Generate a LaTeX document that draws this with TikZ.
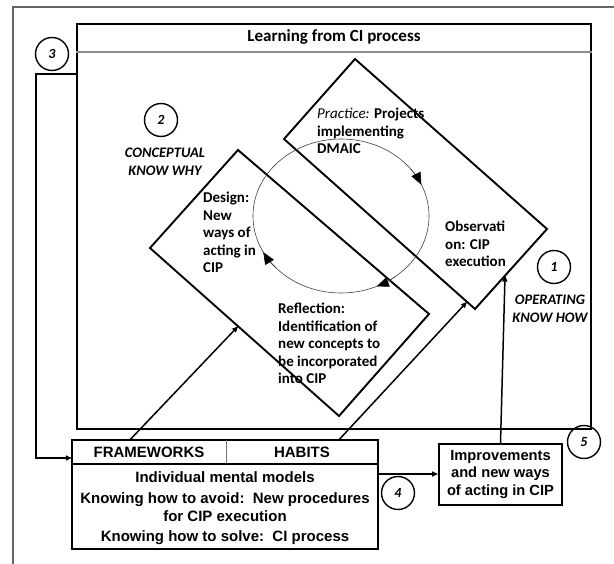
\documentclass[tikz,border=0pt]{standalone}
\usepackage{fontspec}
\setmainfont{Carlito}
\newfontfamily\boxfont{Liberation Sans}
\usetikzlibrary{
  calc,positioning,
  arrows.meta
}
\tikzset{
  edge/.style={line width=1.9pt},
  conn/.style={line width=1.5pt,-{Triangle[length=6pt,width=5pt]}},
  cycline/.style={line width=0.6pt,black!75},
  cyctip/.style={line width=0.6pt,black!75,-{Triangle[length=12pt,width=10pt,color=black]}},
  num/.style={draw,circle,line width=1.4pt,minimum size=33pt,inner sep=0pt,
    font=\bfseries\itshape\fontsize{14}{14}\selectfont},
  step txt/.style={align=left,anchor=north west,inner sep=0pt,
    font=\bfseries\fontsize{15}{17.5}\selectfont},
  know/.style={align=center,inner sep=0pt,
    font=\bfseries\itshape\fontsize{14.5}{17.5}\selectfont},
  boxtxt/.style={align=center,inner sep=0pt,
    font=\boxfont\bfseries\fontsize{15}{18}\selectfont}
}
\begin{document}
\begin{tikzpicture}[x=1pt,y=-1pt]
\useasboundingbox (0,0) rectangle (614,564);
\clip (0,0) rectangle (614,564);

% outer frame, cut by the page
\draw[line width=2.2pt,black!60] (13,7) rectangle (700,700);

% learning box
\node[draw,edge,minimum width=514pt,minimum height=405pt,inner sep=0pt] (learn) at (334,226.5) {};
\draw[line width=1.2pt,black!45] (learn.west |- 0,52) -- (learn.east |- 0,52);
\node[font=\bfseries\fontsize{17}{18}\selectfont] (title) at (334,37) {Learning from CI process};

% diamonds
\coordinate (rdT) at (355,59);
\coordinate (rdR) at (547,229);
\coordinate (rdB) at (475,309);
\coordinate (rdL) at (284,139);
\coordinate (ldT) at (238,150);
\coordinate (ldR) at (429,314);
\coordinate (ldB) at (339,416);
\coordinate (ldL) at (150,248);
\draw[edge] (ldT) -- (ldR) -- (ldB) -- (ldL) -- cycle;
\draw[edge] (rdT) -- (rdR) -- (rdB) -- (rdL) -- cycle;

% cycle
\coordinate (cyc) at (341,216);
\draw[cycline] (cyc) ellipse [x radius=88,y radius=77];
\foreach \a in {-24,66,152}
  \draw[cyctip] ($(cyc)+({\a-14}:88 and 77)$) arc[start angle=\a-14,end angle=\a,x radius=88,y radius=77];

% step texts
\node[step txt] (practice) at (317,108) {\mdseries\itshape Practice:\upshape\bfseries{} Projects\\implementing\\DMAIC};
\node[step txt] (observ) at (445,221) {Observati\\on: CIP\\execution};
\node[step txt] (design) at (203,192) {Design:\\New\\ways of\\acting in\\CIP};
\node[step txt] (reflect) at (278,303) {Reflection:\\Identification of\\new concepts to\\be incorporated\\into CIP};

% know how / know why
\node[know] (why) at (165,162) {CONCEPTUAL\\KNOW WHY};
\node[know] (how) at (550,309) {OPERATING\\KNOW HOW};

% numbers
\node[num] (n1) at (554,267) {1};
\node[num] (n2) at (161,120) {2};
\node[num] (n3) at (52,54) {3};
\node[num] (n4) at (398,493) {4};
\node[num] (n5) at (584,442) {5};

% mental models box
\node[boxtxt,minimum width=154pt,minimum height=24pt] (fw) at (149,452) {FRAMEWORKS};
\node[boxtxt,minimum width=152pt,minimum height=24pt] (hab) at (302,452) {HABITS};
\draw[edge] (fw.north west) rectangle (hab.south east);
\draw[line width=0.8pt,black!55] (fw.north east) -- (fw.south east);
\draw[edge] (fw.south west) rectangle (hab.east |- 0,549);
\node[boxtxt] (mm) at (225,508.5)
  {Individual mental models\\[3pt]Knowing how to avoid:\ \ New procedures\\for CIP execution\\[2pt]Knowing how to solve:\ \ CI process};

\node[boxtxt,draw,edge,minimum width=123pt,minimum height=61pt,font=\boxfont\bfseries\fontsize{14.7}{17.5}\selectfont] (impr) at (500.5,474.5)
  {Improvements\\and new ways\\of acting in CIP};

% connectors
\coordinate (hitA) at ($(ldL)!0.466!(ldB)$);
\coordinate (hitB) at ($(rdL)!0.958!(rdB)$);
\coordinate (hitC) at ($(rdR)!0.583!(rdB)$);
\coordinate (loopA) at (learn.west |- 0,74);
\coordinate (loopB) at (36,458);
\draw[conn] (loopA) -| (loopB) -- (fw.west |- loopB);
\draw[conn] ([xshift=-19pt]fw.north) -- (hitA);
\draw[conn] ([xshift=37pt]hab.north) -- (hitB);
\draw[conn] (impr.north) -- (hitC);
\draw[conn] (hab.east |- 0,474) -- (impr.west |- 0,474);
\end{tikzpicture}
\end{document}
